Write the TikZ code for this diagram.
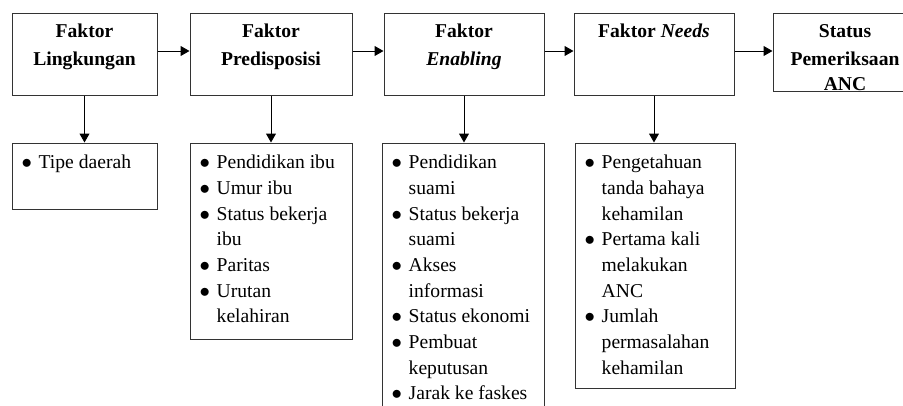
\documentclass[tikz,border=0pt]{standalone}
\usepackage{fontspec}
\setmainfont{Liberation Serif}
\usepackage{tikz}
\usetikzlibrary{arrows.meta}
\usetikzlibrary{positioning}

\tikzset{
  kotak/.style={draw=black!80, line width=1pt, inner sep=0pt},
  judul/.style={font=\fontsize{19.6}{27.5}\selectfont\bfseries, align=center, inner sep=0pt, anchor=north},
  isi/.style={font=\fontsize{19.6}{25.7}\selectfont, align=left, inner sep=0pt, anchor=north west},
  panah/.style={-{Triangle[length=9pt,width=10pt]}, line width=1pt, black}
}
\newcommand{\butir}[1]{\makebox[17pt][l]{$\bullet$}#1}
\newcommand{\lanjut}[1]{\hspace*{17pt}#1}

\begin{document}
\begin{tikzpicture}[x=1pt,y=-1pt]
\useasboundingbox (0,0) rectangle (903,405);

% faktor
\node[kotak, minimum width=145pt, minimum height=82pt] (f1) at (84.5,54) {};
\node[kotak, minimum width=162pt, minimum height=82pt] (f2) at (271,54) {};
\node[kotak, minimum width=160pt, minimum height=82pt] (f3) at (464,54) {};
\node[kotak, minimum width=160pt, minimum height=82pt] (f4) at (654,54) {};
\node[kotak, minimum width=144pt, minimum height=78pt] (f5) at (845,52) {};

\node[judul] (t1) at ([yshift=-5.75pt]f1.north) {\strut Faktor\\Lingkungan};
\node[judul] (t2) at ([yshift=-5.75pt]f2.north) {\strut Faktor\\Predisposisi};
\node[judul] (t3) at ([yshift=-5.75pt]f3.north) {\strut Faktor\\\textit{Enabling}};
\node[judul] (t4) at ([yshift=-5.75pt]f4.north) {\strut Faktor \textit{Needs}};
\node[judul] (t5) at ([yshift=-5.75pt]f5.north) {\strut Status\\Pemeriksaan\\[-2pt]ANC};

% daftar
\node[kotak, minimum width=145pt, minimum height=66pt] (l1) at (84.5,176) {};
\node[kotak, minimum width=162pt, minimum height=196pt] (l2) at (271,241) {};
\node[kotak, minimum width=162pt, minimum height=282pt] (l3) at (463,284) {};
\node[kotak, minimum width=160pt, minimum height=245pt] (l4) at (655,265.5) {};

\node[isi] (d1) at ([xshift=10pt,yshift=-8pt]l1.north west) {\strut\butir{Tipe daerah}};
\node[isi] (d2) at ([xshift=10pt,yshift=-8pt]l2.north west) {\strut\butir{Pendidikan ibu}\\
  \butir{Umur ibu}\\ \butir{Status bekerja}\\ \lanjut{ibu}\\ \butir{Paritas}\\
  \butir{Urutan}\\ \lanjut{kelahiran}};
\node[isi] (d3) at ([xshift=10pt,yshift=-8pt]l3.north west) {\strut\butir{Pendidikan}\\
  \lanjut{suami}\\ \butir{Status bekerja}\\ \lanjut{suami}\\ \butir{Akses}\\
  \lanjut{informasi}\\ \butir{Status ekonomi}\\ \butir{Pembuat}\\
  \lanjut{keputusan}\\ \butir{Jarak ke faskes}};
\node[isi] (d4) at ([xshift=10pt,yshift=-8pt]l4.north west) {\strut\butir{Pengetahuan}\\
  \lanjut{tanda bahaya}\\ \lanjut{kehamilan}\\ \butir{Pertama kali}\\
  \lanjut{melakukan}\\ \lanjut{ANC}\\ \butir{Jumlah}\\ \lanjut{permasalahan}\\
  \lanjut{kehamilan}};

% panah
\draw[panah] ([yshift=3pt]f1.east) -- ([yshift=3pt]f1.east -| f2.west);
\draw[panah] ([yshift=3pt]f2.east) -- ([yshift=3pt]f2.east -| f3.west);
\draw[panah] ([yshift=3pt]f3.east) -- ([yshift=3pt]f3.east -| f4.west);
\draw[panah] ([yshift=3pt]f4.east) -- ([yshift=3pt]f4.east -| f5.west);

\draw[panah] (f1.south) -- (f1.south |- l1.north);
\draw[panah] (f2.south) -- (f2.south |- l2.north);
\draw[panah] (f3.south) -- (f3.south |- l3.north);
\draw[panah] (f4.south) -- (f4.south |- l4.north);

\end{tikzpicture}
\end{document}
